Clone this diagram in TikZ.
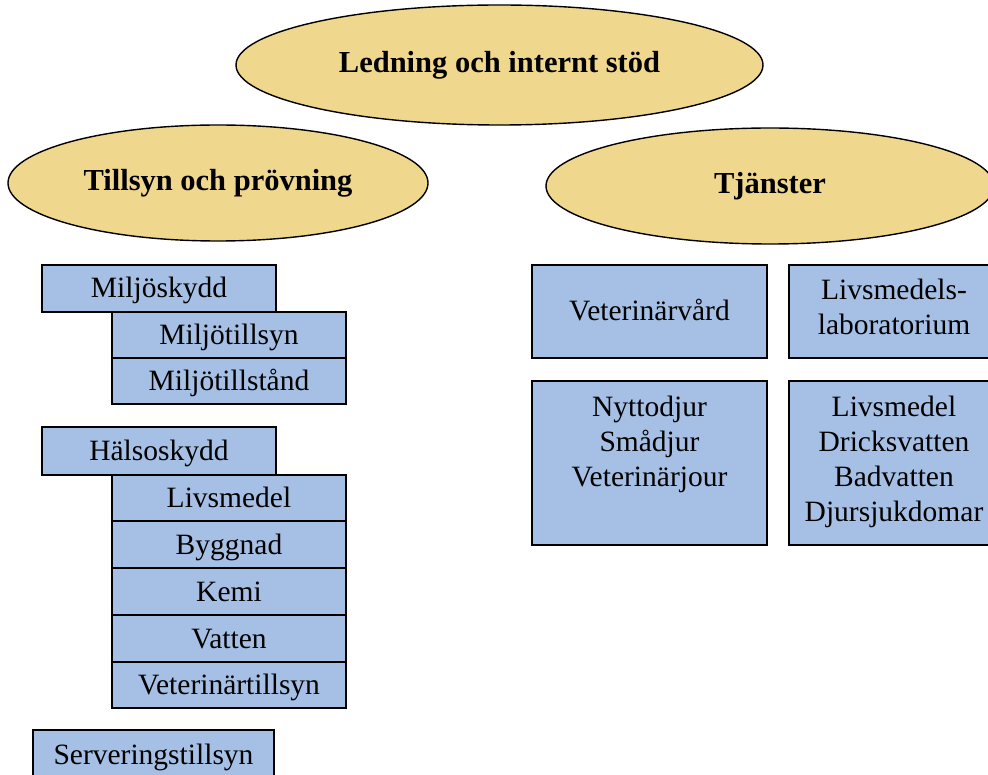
\documentclass[tikz,border=0pt]{standalone}
\usepackage{fontspec}
\setmainfont{Liberation Serif}
\usetikzlibrary{shapes.geometric}
\definecolor{boxblue}{RGB}{165,192,228}
\definecolor{ellyellow}{RGB}{240,215,142}
\tikzset{
  bx/.style={draw=black, fill=boxblue, line width=1.6pt, inner sep=0pt,
    minimum width=234pt, align=center, font=\fontsize{29.5}{35}\selectfont},
  one/.style={text height=25pt, text depth=6pt},
  ell/.style={ellipse, draw=black, fill=ellyellow, line width=1.4pt, inner sep=0pt,
    font=\fontsize{30.5}{36}\selectfont\bfseries},
  txt/.style={inner sep=0pt, align=center, font=\fontsize{29.5}{35}\selectfont}
}
\begin{document}
\begin{tikzpicture}[x=1pt,y=-1pt]
\useasboundingbox (0,0) rectangle (988,775);
% ellipses
\node[ell, minimum width=527pt, minimum height=120pt] (top) at (499.5,65) {Ledning och internt stöd};
\node[ell, minimum width=420pt, minimum height=116pt] (left) at (218,183) {Tillsyn och prövning};
\node[ell, minimum width=448pt, minimum height=116pt] (right) at (770,186) {Tjänster};
% left column
\node[bx, one, minimum height=47pt] (miljo) at (159,288.5) {Miljöskydd};
\node[bx, one, minimum height=46pt] (mtill) at (229,335) {Miljötillsyn};
\node[bx, one, minimum height=46pt] (mtills) at (229,381) {Miljötillstånd};
\node[bx, one, minimum height=48pt] (halso) at (159,451) {Hälsoskydd};
\node[bx, one, minimum height=46pt] (livs) at (229,498) {Livsmedel};
\node[bx, one, minimum height=47pt] (bygg) at (229,544.5) {Byggnad};
\node[bx, one, minimum height=47pt] (kemi) at (229,591.5) {Kemi};
\node[bx, one, minimum height=47pt] (vatten) at (229,638.5) {Vatten};
\node[bx, one, minimum height=46pt] (vett) at (229,685) {Veterinärtillsyn};
\node[bx, one, minimum width=241pt, minimum height=50pt] (serv) at (153.5,755) {Serveringstillsyn};
% right boxes
\node[bx, one, minimum width=235pt, minimum height=93pt] (vv) at (649.5,311.5) {Veterinärvård};
\node[bx, minimum width=210pt, minimum height=93pt] (lab) at (894,311.5) {};
\node[txt, anchor=north] (labt) at ([yshift=-15pt]lab.north) {Livsmedels-\\laboratorium};
\node[bx, minimum width=235pt, minimum height=164pt] (nytt) at (649.5,463) {};
\node[txt, anchor=north] (nyttt) at ([yshift=-16pt]nytt.north) {Nyttodjur\\Smådjur\\Veterinärjour};
\node[bx, minimum width=210pt, minimum height=164pt] (lm) at (894,463) {};
\node[txt, anchor=north] (lmt) at ([yshift=-16pt]lm.north) {Livsmedel\\Dricksvatten\\Badvatten\\Djursjukdomar};
\end{tikzpicture}
\end{document}
